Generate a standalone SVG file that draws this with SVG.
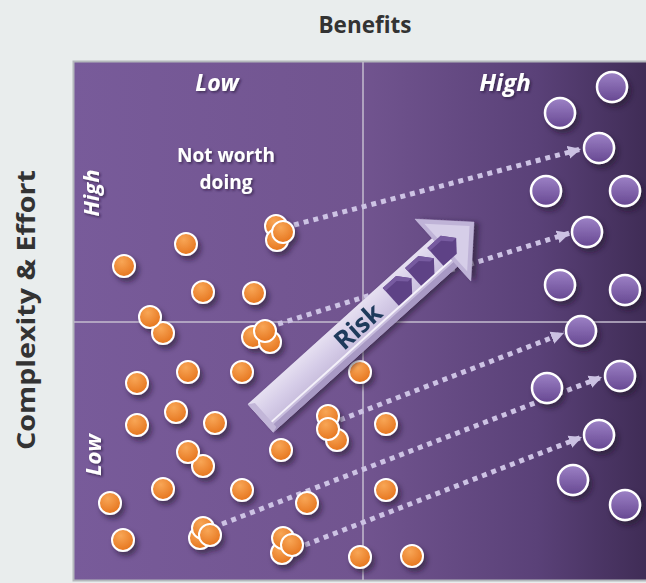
<svg xmlns="http://www.w3.org/2000/svg" width="646" height="583" viewBox="0 0 646 583">
<defs>
<linearGradient id="bg" x1="0" y1="0" x2="1" y2="0">
<stop offset="0" stop-color="#785b9a"/>
<stop offset="0.5" stop-color="#71548f"/>
<stop offset="0.8" stop-color="#5a4178"/>
<stop offset="1" stop-color="#3e2b54"/>
</linearGradient>
<radialGradient id="og" cx="0.4" cy="0.3" r="0.7">
<stop offset="0" stop-color="#f8a656"/>
<stop offset="1" stop-color="#e6761f"/>
</radialGradient>
<linearGradient id="pg" x1="0" y1="0" x2="0" y2="1">
<stop offset="0" stop-color="#9d82c6"/>
<stop offset="1" stop-color="#664791"/>
</linearGradient>
<linearGradient id="shaft" x1="0" y1="0" x2="0" y2="1">
<stop offset="0" stop-color="#e6e0f1"/>
<stop offset="0.5" stop-color="#d6cde8"/>
<stop offset="1" stop-color="#c7bcdc"/>
</linearGradient>
<filter id="sh" x="-50%" y="-50%" width="200%" height="200%">
<feDropShadow dx="3" dy="4" stdDeviation="2.5" flood-color="#1a0f2a" flood-opacity="0.55"/>
</filter>
<filter id="tsh" x="-20%" y="-20%" width="140%" height="140%">
<feDropShadow dx="1.5" dy="1.5" stdDeviation="1" flood-color="#1a0f2a" flood-opacity="0.6"/>
</filter>
<marker id="ah" markerUnits="userSpaceOnUse" markerWidth="14" markerHeight="14" refX="13" refY="7" orient="auto">
<path d="M0,0.5 L13,7 L0,13.5 z" fill="#cbc1e2"/>
</marker>
<style>
.o{fill:url(#og);stroke:#fff;stroke-width:2;}
.p{fill:url(#pg);stroke:#fff;stroke-width:2.5;}
.c{fill:none;stroke:#cdc3e4;stroke-width:5;stroke-dasharray:5 5;}
.lab{font-family:"Open Sans",sans-serif;font-weight:bold;fill:#fff;}
.ax{font-family:"Open Sans",sans-serif;font-weight:bold;fill:#333;}
.it{font-style:italic;}
</style>
</defs>
<rect x="0" y="0" width="646" height="583" fill="#e9eded"/>
<g id="plot">
<rect x="73.5" y="61.5" width="580" height="519" fill="url(#bg)" stroke="#b4b8bc" stroke-width="2"/>
<line x1="363" y1="62" x2="363" y2="580" stroke="#c4bccf" stroke-width="1.5"/>
<line x1="74" y1="322" x2="646" y2="322" stroke="#c4bccf" stroke-width="1.5"/>
</g>
<g id="axis-labels">
<text class="ax" x="365" y="33" font-size="22.5" text-anchor="middle">Benefits</text>
<text class="ax" transform="translate(35,310) rotate(-90)" font-size="25" text-anchor="middle" textLength="280" lengthAdjust="spacingAndGlyphs">Complexity &amp; Effort</text>
<g filter="url(#tsh)">
<text class="lab it" x="217" y="91" font-size="23" text-anchor="middle">Low</text>
<text class="lab it" x="505" y="91" font-size="24" text-anchor="middle">High</text>
<text class="lab it" transform="translate(99,193) rotate(-90)" font-size="22" text-anchor="middle">High</text>
<text class="lab it" transform="translate(101,455) rotate(-90)" font-size="22" text-anchor="middle">Low</text>
<text class="lab" x="226" y="162" font-size="19" text-anchor="middle">Not worth</text>
<text class="lab" x="226" y="188.5" font-size="19" text-anchor="middle">doing</text>
</g>
</g>
<g id="connectors">
<path class="c" d="M294,225 L581,149" marker-end="url(#ah)"/>
<path class="c" d="M278,324 L570,233" marker-end="url(#ah)"/>
<path class="c" d="M340,420 L564,333" marker-end="url(#ah)"/>
<path class="c" d="M222,524 L602,377" marker-end="url(#ah)"/>
<path class="c" d="M305,545 L582,437" marker-end="url(#ah)"/>
</g>
<g id="low-benefit-items" filter="url(#sh)">
<circle class="o" cx="186" cy="244" r="11"/>
<circle class="o" cx="124" cy="266" r="11"/>
<circle class="o" cx="203" cy="292" r="11"/>
<circle class="o" cx="254" cy="293" r="11"/>
<circle class="o" cx="276" cy="226" r="11"/>
<circle class="o" cx="277" cy="240" r="11"/>
<circle class="o" cx="283" cy="232" r="11"/>
<circle class="o" cx="163" cy="333" r="11"/>
<circle class="o" cx="150" cy="317" r="11"/>
<circle class="o" cx="253" cy="337" r="11"/>
<circle class="o" cx="270" cy="342" r="11"/>
<circle class="o" cx="265" cy="331" r="11"/>
<circle class="o" cx="188" cy="372" r="11"/>
<circle class="o" cx="242" cy="372" r="11"/>
<circle class="o" cx="137" cy="383" r="11"/>
<circle class="o" cx="176" cy="412" r="11"/>
<circle class="o" cx="137" cy="425" r="11"/>
<circle class="o" cx="215" cy="423" r="11"/>
<circle class="o" cx="203" cy="466" r="11"/>
<circle class="o" cx="188" cy="452" r="11"/>
<circle class="o" cx="281" cy="450" r="11"/>
<circle class="o" cx="163" cy="489" r="11"/>
<circle class="o" cx="242" cy="490" r="11"/>
<circle class="o" cx="110" cy="503" r="11"/>
<circle class="o" cx="307" cy="503" r="11"/>
<circle class="o" cx="123" cy="540" r="11"/>
<circle class="o" cx="200" cy="538" r="11"/>
<circle class="o" cx="203" cy="528" r="11"/>
<circle class="o" cx="210" cy="535" r="11"/>
<circle class="o" cx="282" cy="553" r="11"/>
<circle class="o" cx="283" cy="538" r="11"/>
<circle class="o" cx="292" cy="545" r="11"/>
<circle class="o" cx="337" cy="440" r="11"/>
<circle class="o" cx="328" cy="416" r="11"/>
<circle class="o" cx="328" cy="429" r="11"/>
<circle class="o" cx="360" cy="372" r="11"/>
<circle class="o" cx="360" cy="557" r="11"/>
<circle class="o" cx="386" cy="424" r="11"/>
<circle class="o" cx="386" cy="490" r="11"/>
<circle class="o" cx="412" cy="556" r="11"/>
</g>
<g id="high-benefit-items" filter="url(#sh)">
<circle class="p" cx="612" cy="87" r="15"/>
<circle class="p" cx="560" cy="113" r="15"/>
<circle class="p" cx="599" cy="148" r="15"/>
<circle class="p" cx="546" cy="191" r="15"/>
<circle class="p" cx="625" cy="191" r="15"/>
<circle class="p" cx="587" cy="232" r="15"/>
<circle class="p" cx="560" cy="285" r="15"/>
<circle class="p" cx="625" cy="290" r="15"/>
<circle class="p" cx="581" cy="331" r="15"/>
<circle class="p" cx="547" cy="388" r="15"/>
<circle class="p" cx="620" cy="376" r="15"/>
<circle class="p" cx="599" cy="435" r="15"/>
<circle class="p" cx="573" cy="480" r="15"/>
<circle class="p" cx="625" cy="505" r="15"/>
</g>
<g id="risk-arrow" transform="translate(474,222) rotate(-42)">
<g filter="url(#sh)">
<polygon points="-290,-16 -42,-16 -42,-42 0,0 -42,42 -42,22 -290,22" fill="#b3a6cd"/>
</g>
<polygon points="-290,16 -42,16 -42,22 -290,22" fill="#a899c4"/>
<rect x="-290" y="-16" width="248" height="32" fill="url(#shaft)"/>
<line x1="-288" y1="13" x2="-42" y2="13" stroke="#f4f1fa" stroke-width="2"/>
<polygon points="-290,-16 -284,-12 -284,20 -290,22" fill="#c2b6d8"/>
<polygon points="0,0 -42,-42 -42,42" fill="#bfb3d7"/>
<polygon points="-6,0 -38,-32 -38,32" fill="#d6cee8"/>
<g fill="#5e4286">
<polygon points="-112,-12 -94,-12 -84,0 -94,12 -112,12"/>
<polygon points="-82,-12 -64,-12 -54,0 -64,12 -82,12"/>
<polygon points="-52,-12 -34,-12 -24,0 -34,12 -52,12"/>
</g>
<g fill="#775ba0">
<polygon points="-112,-12 -94,-12 -84,0 -89,0 -97,-8 -112,-8"/>
<polygon points="-82,-12 -64,-12 -54,0 -59,0 -67,-8 -82,-8"/>
<polygon points="-52,-12 -34,-12 -24,0 -29,0 -37,-8 -52,-8"/>
</g>
<text x="-156" y="9" font-family="Open Sans, sans-serif" font-weight="bold" font-size="26" fill="#1e3a5c" text-anchor="middle">Risk</text>
</g>
</svg>
